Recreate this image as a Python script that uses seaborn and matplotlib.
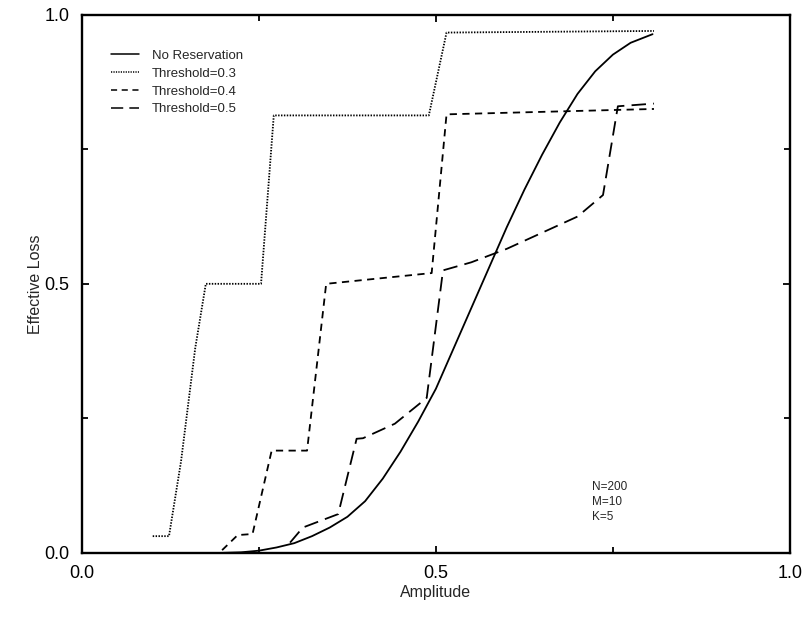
import numpy as np
import pandas as pd
import matplotlib
matplotlib.use("Agg")
import matplotlib.pyplot as plt
import seaborn as sns

# Effective loss vs. amplitude, one polyline per reservation policy
no_res_x = [0.200, 0.225, 0.250, 0.275, 0.300, 0.325, 0.350, 0.375, 0.400, 0.425,
            0.450, 0.475, 0.500, 0.525, 0.550, 0.575, 0.600, 0.625, 0.650, 0.675,
            0.700, 0.725, 0.750, 0.775, 0.806]
no_res_y = [0.000, 0.001, 0.004, 0.010, 0.018, 0.031, 0.047, 0.067, 0.096, 0.138,
            0.188, 0.244, 0.305, 0.380, 0.455, 0.530, 0.605, 0.675, 0.740, 0.800,
            0.853, 0.895, 0.926, 0.948, 0.964]

thr03_x = [0.100, 0.123, 0.140, 0.160, 0.175, 0.253, 0.271, 0.490, 0.515, 0.808]
thr03_y = [0.031, 0.031, 0.170, 0.380, 0.500, 0.500, 0.813, 0.813, 0.967, 0.970]

thr04_x = [0.198, 0.220, 0.241, 0.268, 0.318, 0.345, 0.494, 0.515, 0.808]
thr04_y = [0.005, 0.033, 0.035, 0.190, 0.190, 0.500, 0.520, 0.815, 0.825]

thr05_x = [0.294, 0.312, 0.362, 0.388, 0.397, 0.442, 0.487, 0.510, 0.550, 0.600,
           0.650, 0.700, 0.736, 0.757, 0.808]
thr05_y = [0.019, 0.047, 0.072, 0.212, 0.213, 0.240, 0.288, 0.525, 0.540, 0.565,
           0.595, 0.625, 0.665, 0.830, 0.835]

series_names = ["No Reservation", "Threshold=0.3", "Threshold=0.4", "Threshold=0.5"]
params_text = ["N=200", "M=10", "K=5"]

frames = []
for name, xs, ys in zip(series_names,
                        [no_res_x, thr03_x, thr04_x, thr05_x],
                        [no_res_y, thr03_y, thr04_y, thr05_y]):
    frames.append(pd.DataFrame({"Amplitude": xs, "Effective Loss": ys, "policy": name}))
df = pd.concat(frames, ignore_index=True)

sns.set_style("ticks")
plt.rcParams["font.family"] = ["Liberation Sans", "DejaVu Sans"]

fig = plt.figure(figsize=(8.11, 6.17), dpi=100)
ax = fig.add_axes([0.101, 0.104, 0.873, 0.872])

dash_map = {
    "No Reservation": "",
    "Threshold=0.3": (0.8, 0.8),
    "Threshold=0.4": (4, 3),
    "Threshold=0.5": (8, 4),
}
sns.lineplot(data=df, x="Amplitude", y="Effective Loss", style="policy",
             dashes=dash_map, color="black", sort=False, estimator=None,
             units="policy", linewidth=1.3, ax=ax, legend=True)

ax.set_xlim(0, 1)
ax.set_ylim(0, 1)
ax.set_xticks([0.0, 0.5, 1.0])
ax.set_yticks([0.0, 0.5, 1.0])
ax.set_xticks([0.25, 0.75], minor=True)
ax.set_yticks([0.25, 0.75], minor=True)
ax.set_xticklabels(["0.0", "0.5", "1.0"], fontsize=13)
ax.set_yticklabels(["0.0", "0.5", "1.0"], fontsize=13)
ax.tick_params(which="both", direction="in", top=True, right=True, width=1.3, colors="black")
ax.tick_params(which="major", length=5, pad=9)
ax.tick_params(which="minor", length=4)
for s in ax.spines.values():
    s.set_linewidth(1.7)
    s.set_color("black")

ax.set_xlabel("Amplitude", fontsize=11.5, labelpad=2)
ax.set_ylabel("Effective Loss", fontsize=11.5, labelpad=1)

leg = ax.legend(loc="upper left", bbox_to_anchor=(0.028, 0.952), frameon=False,
                fontsize=9.5, handlelength=2.1, labelspacing=0.42, handletextpad=1.0,
                borderpad=0.2)
for line in leg.get_lines():
    line.set_linewidth(1.1)

ax.text(0.72, 0.095, "\n".join(params_text), fontsize=8.5, ha="left", va="center",
        linespacing=1.35, transform=ax.transData)

fig.savefig("out.png", dpi=100)
